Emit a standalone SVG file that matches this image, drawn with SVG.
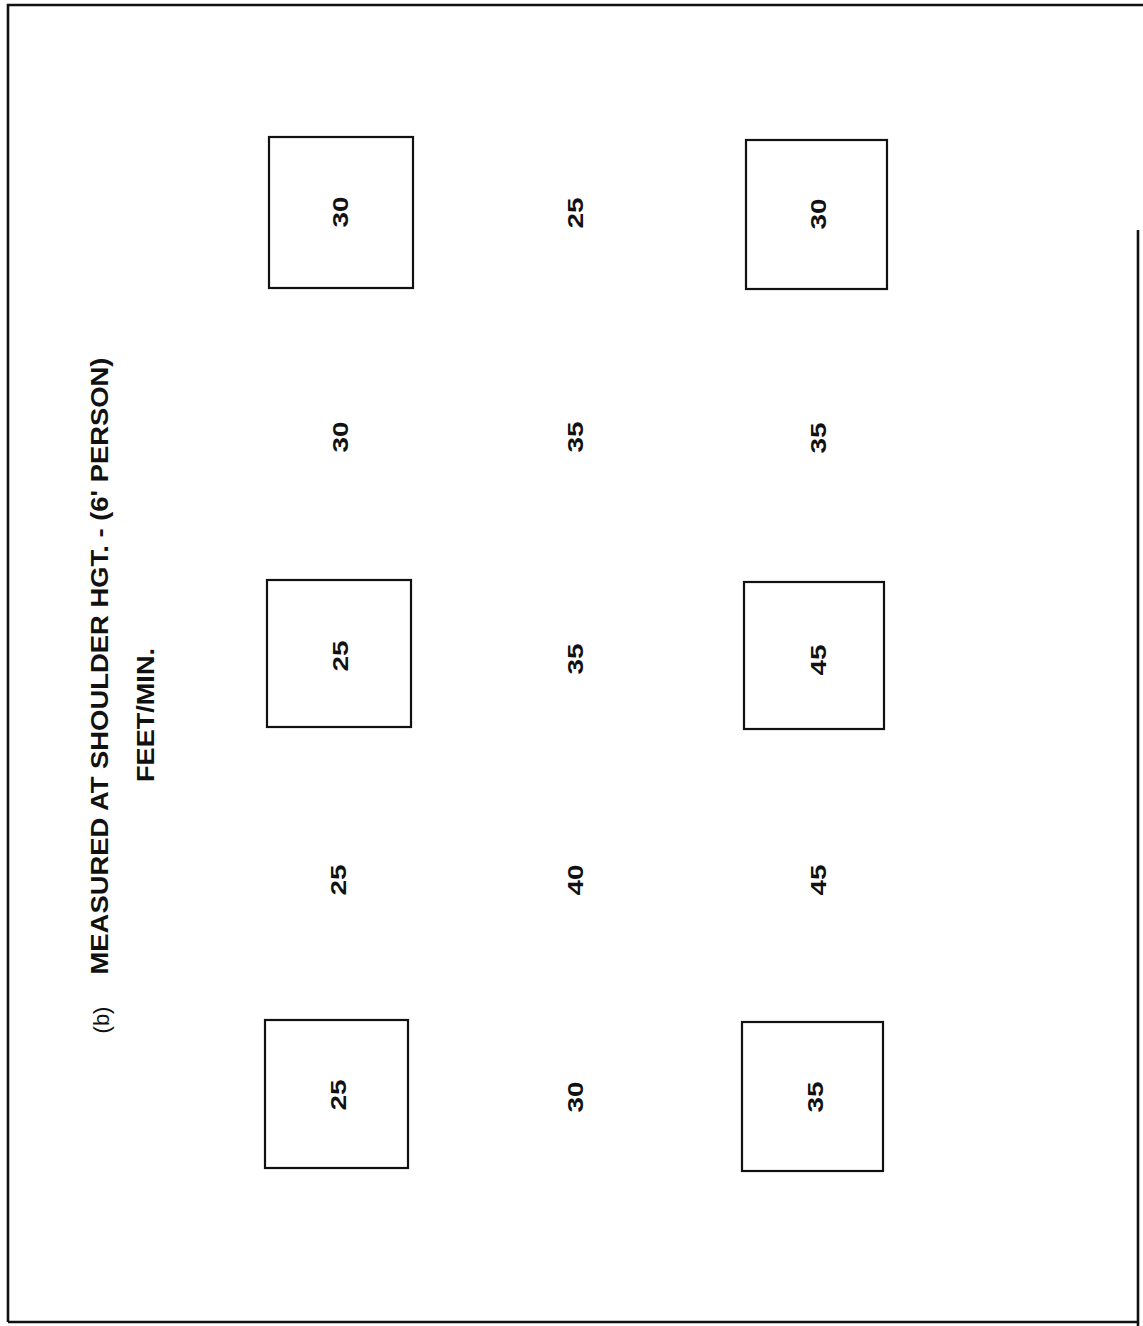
<svg xmlns="http://www.w3.org/2000/svg" width="1143" height="1326" viewBox="0 0 1143 1326">
<style>
.box{fill:none;stroke:#111;stroke-width:2.2}
.frame{fill:none;stroke:#111;stroke-width:2.6}
.num{font-family:"Liberation Sans",Arial,sans-serif;font-weight:bold;font-size:22px;fill:#111;text-anchor:middle;dominant-baseline:central}
.title{font-family:"Liberation Sans",Arial,sans-serif;font-weight:bold;font-size:23px;fill:#111;text-anchor:middle;dominant-baseline:central}
</style>
<rect width="1143" height="1326" fill="#fff"/>
<g id="frame">
<path class="frame" d="M8,1322 L8,5 L1143,5"/>
<path class="frame" d="M8,1322 L1138,1322 M1138,230 L1138,1326"/>
</g>
<g id="title">
<text class="title" transform="translate(101,1020) rotate(-90)" style="font-weight:normal;font-size:22px">(b)</text>
<text class="title" transform="translate(100,666) rotate(-90)" textLength="617" lengthAdjust="spacingAndGlyphs">MEASURED AT SHOULDER HGT. - (6' PERSON)</text>
<text class="title" transform="translate(146,715) rotate(-90)" textLength="134" lengthAdjust="spacingAndGlyphs">FEET/MIN.</text>
</g>
<g id="box-1"><rect class="box" x="269" y="137" width="144" height="151"/><text class="num" transform="translate(340,212) rotate(-90)" textLength="31" lengthAdjust="spacingAndGlyphs">30</text></g>
<g id="box-2"><rect class="box" x="267" y="580" width="144" height="147"/><text class="num" transform="translate(340,656) rotate(-90)" textLength="31" lengthAdjust="spacingAndGlyphs">25</text></g>
<g id="box-3"><rect class="box" x="265" y="1020" width="143" height="148"/><text class="num" transform="translate(338,1095) rotate(-90)" textLength="31" lengthAdjust="spacingAndGlyphs">25</text></g>
<g id="box-4"><rect class="box" x="746" y="140" width="141" height="149"/><text class="num" transform="translate(818,214) rotate(-90)" textLength="31" lengthAdjust="spacingAndGlyphs">30</text></g>
<g id="box-5"><rect class="box" x="744" y="582" width="140" height="147"/><text class="num" transform="translate(818,660) rotate(-90)" textLength="31" lengthAdjust="spacingAndGlyphs">45</text></g>
<g id="box-6"><rect class="box" x="742" y="1022" width="141" height="149"/><text class="num" transform="translate(815,1097) rotate(-90)" textLength="31" lengthAdjust="spacingAndGlyphs">35</text></g>
<g id="values">
<text class="num" transform="translate(340,437) rotate(-90)" textLength="31" lengthAdjust="spacingAndGlyphs">30</text>
<text class="num" transform="translate(338,880) rotate(-90)" textLength="31" lengthAdjust="spacingAndGlyphs">25</text>
<text class="num" transform="translate(575,213) rotate(-90)" textLength="31" lengthAdjust="spacingAndGlyphs">25</text>
<text class="num" transform="translate(575,437) rotate(-90)" textLength="31" lengthAdjust="spacingAndGlyphs">35</text>
<text class="num" transform="translate(575,659) rotate(-90)" textLength="31" lengthAdjust="spacingAndGlyphs">35</text>
<text class="num" transform="translate(575,880) rotate(-90)" textLength="31" lengthAdjust="spacingAndGlyphs">40</text>
<text class="num" transform="translate(575,1097) rotate(-90)" textLength="31" lengthAdjust="spacingAndGlyphs">30</text>
<text class="num" transform="translate(818,438) rotate(-90)" textLength="31" lengthAdjust="spacingAndGlyphs">35</text>
<text class="num" transform="translate(818,880) rotate(-90)" textLength="31" lengthAdjust="spacingAndGlyphs">45</text>
</g>
<g id="connectors"/>
</svg>
